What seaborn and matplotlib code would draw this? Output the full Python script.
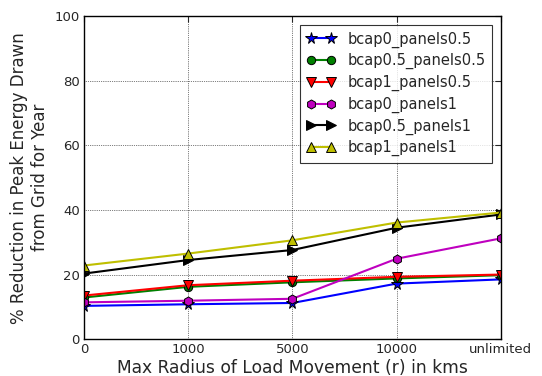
import matplotlib
matplotlib.use("Agg")
import matplotlib.pyplot as plt
import seaborn as sns
import pandas as pd

# data
radius_labels = ["0", "1000", "5000", "10000", "unlimited"]
bcap0_panels05 = [10.3, 10.8, 11.2, 17.2, 18.5]
bcap05_panels05 = [12.9, 16.2, 17.6, 18.8, 19.8]
bcap1_panels05 = [13.5, 16.7, 18.1, 19.3, 20.0]
bcap0_panels1 = [11.4, 11.9, 12.5, 24.9, 31.2]
bcap05_panels1 = [20.3, 24.5, 27.6, 34.5, 38.6]
bcap1_panels1 = [22.8, 26.5, 30.6, 36.1, 39.2]

series = [
    ("bcap0_panels0.5", bcap0_panels05, "b", "*", 8.5),
    ("bcap0.5_panels0.5", bcap05_panels05, "g", "o", 6),
    ("bcap1_panels0.5", bcap1_panels05, "r", "v", 6.5),
    ("bcap0_panels1", bcap0_panels1, "m", "h", 6.5),
    ("bcap0.5_panels1", bcap05_panels1, "k", ">", 6.5),
    ("bcap1_panels1", bcap1_panels1, "y", "^", 6.5),
]

sns.set_style("white")
plt.rcParams["font.family"] = ["DejaVu Sans"]

fig = plt.figure(figsize=(5.42, 3.76), dpi=100)
ax = fig.add_axes([0.155, 0.098, 0.769, 0.859])

x = list(range(len(radius_labels)))
for name, vals, color, marker, ms in series:
    df = pd.DataFrame({"x": x, "y": vals})
    sns.lineplot(data=df, x="x", y="y", ax=ax, color=color, marker=marker,
                 markersize=ms, markeredgecolor="k", markeredgewidth=0.7,
                 linewidth=1.5, label=name)

ax.set_xlim(0, len(radius_labels) - 1)
ax.set_ylim(0, 100)
ax.set_xticks(x)
ax.set_xticklabels(radius_labels)
ax.set_yticks([0, 20, 40, 60, 80, 100])
ax.tick_params(direction="in", top=True, right=True, labelsize=9.5, length=4, pad=3)
ax.grid(True, linestyle=":", color="k", linewidth=0.5)
for s in ax.spines.values():
    s.set_color("k")
    s.set_linewidth(1)

ax.set_xlabel("Max Radius of Load Movement (r) in kms", fontsize=12.3, labelpad=2)
ax.set_ylabel("% Reduction in Peak Energy Drawn\nfrom Grid for Year", fontsize=12, labelpad=4)

leg = ax.legend(loc="upper right", numpoints=2, fontsize=10.5, fancybox=False,
                frameon=True, borderaxespad=0.6, handlelength=2.0,
                labelspacing=0.38, handletextpad=0.8, borderpad=0.45)
leg.get_frame().set_edgecolor("k")
leg.get_frame().set_linewidth(0.8)

plt.savefig("out.png", dpi=100)
